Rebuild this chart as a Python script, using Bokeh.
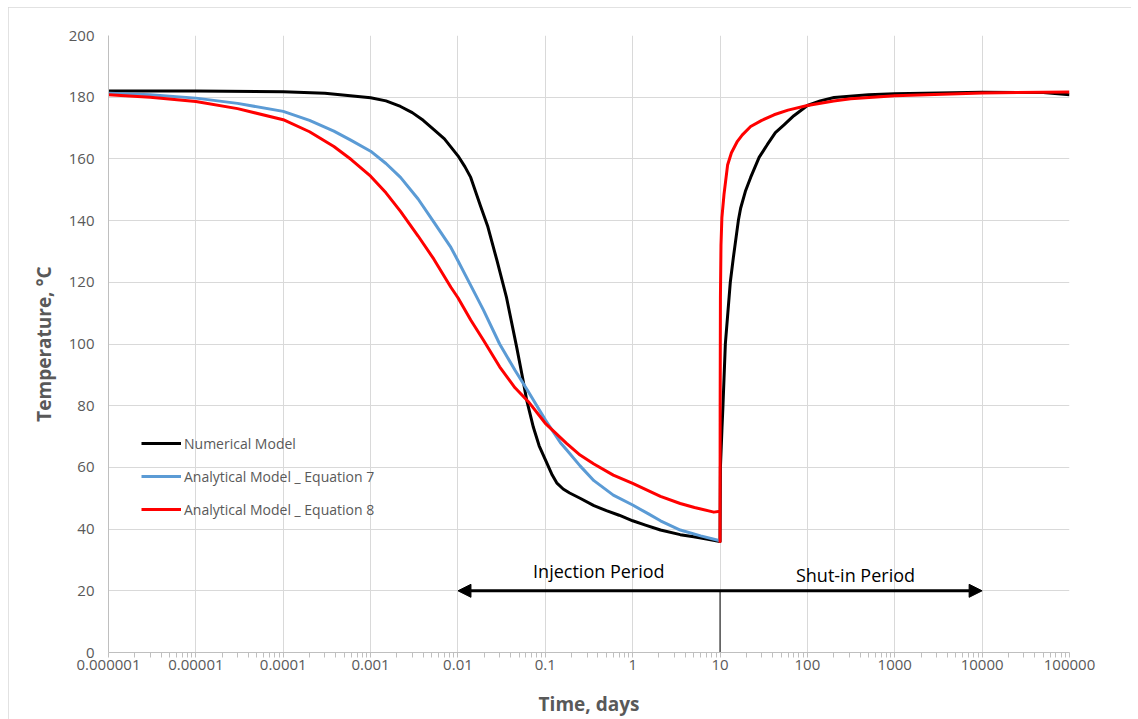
from bokeh.plotting import figure
from bokeh.models import (Range1d, FixedTicker, Arrow, NormalHead, Label, Legend, LegendItem, ColumnDataSource)
from bokeh.embed import file_html
from bokeh.resources import INLINE

# ---------------- data ----------------
x_ticks = [1e-6, 1e-5, 1e-4, 1e-3, 1e-2, 1e-1, 1, 10, 100, 1000, 10000, 100000]
x_tick_labels = ["0.000001", "0.00001", "0.0001", "0.001", "0.01", "0.1", "1", "10",
                 "100", "1000", "10000", "100000"]
y_ticks = [0, 20, 40, 60, 80, 100, 120, 140, 160, 180, 200]

# Numerical model (black): injection then shut-in
num_t = [1e-6, 1e-5, 1e-4, 3e-4, 1e-3, 1.5e-3, 2.2e-3, 3e-3, 4e-3, 5.3e-3, 7e-3,
         0.01, 0.012, 0.014, 0.018, 0.022, 0.028, 0.036, 0.047, 0.055, 0.061, 0.073, 0.085,
         0.1, 0.12, 0.135, 0.16, 0.19, 0.25, 0.36, 0.5, 0.7, 1, 1.4, 2.08, 3.5, 5, 7, 10,
         10, 10.1, 10.5, 10.8, 11.5, 13.1, 14.2, 16.2, 17.2, 19.5, 22.4, 28, 34.7, 43,
         54, 70, 100, 140, 202, 500, 1000, 10000, 50000, 100000]
num_T = [182.0, 182.0, 181.8, 181.3, 179.8, 178.8, 177.0, 175.0, 172.5, 169.5, 166.5,
         161.0, 157.5, 154.0, 145.0, 138.0, 127.0, 115.0, 99.0, 89.0, 82.0, 73.0, 67.0,
         62.5, 57.5, 55.0, 53.0, 51.7, 50.0, 47.6, 46.0, 44.5, 42.7, 41.3, 39.7, 38.2, 37.5, 36.8, 36.0,
         36.0, 60, 72, 80, 100, 120, 128, 140, 144, 149.5, 154, 160.5, 164.6, 168.5,
         171, 174, 177.3, 178.8, 179.9, 180.8, 181.1, 181.6, 181.5, 180.8]

# Analytical model, Equation 7 (blue): injection only
eq7_t = [1e-6, 3e-6, 1e-5, 3e-5, 1e-4, 2e-4, 3.8e-4, 6e-4, 1e-3, 1.5e-3, 2.2e-3, 3.5e-3,
         5.3e-3, 8.3e-3, 0.01, 0.014, 0.0196, 0.03, 0.045, 0.064, 0.1, 0.149, 0.175,
         0.25, 0.36, 0.6, 1, 1.5, 2.08, 3.5, 6, 10]
eq7_T = [181.3, 180.8, 179.7, 178.0, 175.4, 172.5, 169.0, 166.0, 162.5, 158.5, 154.0, 147.0,
         139.5, 131.3, 127.0, 119.0, 111.0, 100.0, 91.5, 84.5, 75.4, 68.0, 65.7,
         60.5, 55.7, 51.0, 47.8, 45.0, 42.7, 39.7, 37.8, 36.2]

# Analytical model, Equation 8 (red): injection then shut-in
eq8_t = [1e-6, 3e-6, 1e-5, 3e-5, 1e-4, 2e-4, 3.8e-4, 6e-4, 1e-3, 1.5e-3, 2.2e-3, 3.5e-3,
         5.3e-3, 8.3e-3, 0.01, 0.014, 0.0196, 0.03, 0.045, 0.064, 0.1, 0.175, 0.25,
         0.36, 0.6, 1, 2.08, 3.5, 5.1, 8.5, 10,
         10, 10.03, 10.1, 10.25, 10.5, 11.1, 12.2, 13.5, 15.8, 18, 22.4, 30, 41.5, 60,
         100, 200, 313, 1000, 10000, 100000]
eq8_T = [180.8, 180.0, 178.6, 176.3, 172.7, 168.8, 164.0, 159.8, 154.4, 149.0, 143.0, 135.0,
         127.5, 118.4, 115.0, 107.8, 101.2, 92.6, 85.8, 81.3, 74.3, 67.8, 64.0,
         61.1, 57.5, 54.8, 50.6, 48.3, 47.0, 45.5, 45.8,
         36, 80, 115, 132, 141, 148.5, 158, 162, 165.7, 167.8, 170.5, 172.5, 174.3, 175.8,
         177.3, 178.8, 179.5, 180.5, 181.4, 181.7]

injection_end = 10
arrow_T = 20
arrow_t_start = 0.01
arrow_t_end = 10000

# ---------------- figure ----------------
GRID = "#d9d9d9"
AXIS = "#bfbfbf"
TXT = "#595959"
FONT = "Open Sans"

p = figure(width=1123, height=712, x_axis_type="log",
           x_range=Range1d(1e-6, 1e5), y_range=Range1d(0, 200),
           output_backend="svg", toolbar_location=None,
           min_border_left=100, min_border_right=62, min_border_top=28, min_border_bottom=67,
           margin=(7, 0, 0, 8))
p.styles = {"outline": "1.5px solid #d9d9d9", "outline-offset": "-1px"}
p.outline_line_color = None
p.background_fill_color = "white"
p.border_fill_color = "white"

minor = [k * 10.0 ** n for n in range(-6, 5) for k in range(2, 10)]
p.xaxis.ticker = FixedTicker(ticks=x_ticks, minor_ticks=minor)
p.xaxis.major_label_overrides = {t: lab for t, lab in zip(x_ticks, x_tick_labels)}
p.yaxis.ticker = FixedTicker(ticks=y_ticks)

for ax in (p.xaxis[0], p.yaxis[0]):
    ax.axis_line_color = AXIS
    ax.axis_line_width = 1
    ax.major_tick_line_color = AXIS
    ax.minor_tick_line_color = AXIS
    ax.major_label_text_color = TXT
    ax.major_label_text_font = FONT
    ax.major_label_text_font_size = "15px"
    ax.axis_label_text_color = TXT
    ax.axis_label_text_font = FONT
    ax.axis_label_text_font_style = "bold"
    ax.axis_label_text_font_size = "19px"

p.xaxis.major_tick_in = 0
p.xaxis.major_tick_out = 5
p.xaxis.minor_tick_in = 0
p.xaxis.minor_tick_out = 5
p.xaxis.major_label_standoff = 2
p.xaxis.axis_label = "Time, days"
p.xaxis.axis_label_standoff = 18

p.yaxis.major_tick_in = 0
p.yaxis.major_tick_out = 0
p.yaxis.minor_tick_in = 0
p.yaxis.minor_tick_out = 0
p.yaxis.major_label_standoff = 14
p.yaxis.axis_label = "Temperature, °C"
p.yaxis.axis_label_standoff = 9

p.xgrid.grid_line_color = GRID
p.ygrid.grid_line_color = GRID
p.xgrid.grid_line_width = 1
p.ygrid.grid_line_width = 1

# curves
r_num = p.line(num_t, num_T, line_color="black", line_width=3, line_join="round")
r_eq7 = p.line(eq7_t, eq7_T, line_color="#5B9BD5", line_width=3, line_join="round")
r_eq8 = p.line(eq8_t, eq8_T, line_color="#FF0000", line_width=3, line_join="round")

# injection / shut-in marker
seg_src = ColumnDataSource(dict(x0=[injection_end], y0=[0], x1=[injection_end], y1=[arrow_T]))
p.segment("x0", "y0", "x1", "y1", source=seg_src, line_color="black", line_width=1)

p.add_layout(Arrow(x_start=arrow_t_start, y_start=arrow_T, x_end=arrow_t_end, y_end=arrow_T,
                   line_color="black", line_width=3,
                   start=NormalHead(size=13, fill_color="black", line_color="black"),
                   end=NormalHead(size=13, fill_color="black", line_color="black")))

p.add_layout(Label(x=0.41, y=26.5, text="Injection Period", text_font=FONT,
                   text_font_size="18px", text_color="black",
                   text_align="center", text_baseline="middle"))
p.add_layout(Label(x=355, y=25, text="Shut-in Period", text_font=FONT,
                   text_font_size="18px", text_color="black",
                   text_align="center", text_baseline="middle"))

legend = Legend(items=[LegendItem(label="Numerical Model", renderers=[r_num]),
                       LegendItem(label="Analytical Model _ Equation 7", renderers=[r_eq7]),
                       LegendItem(label="Analytical Model _ Equation 8", renderers=[r_eq8])],
                location=(33, 133), padding=0, margin=0, spacing=13,
                glyph_width=40, glyph_height=20, label_height=20, label_standoff=3,
                label_text_font=FONT, label_text_font_size="14px", label_text_color=TXT,
                border_line_color=None, background_fill_alpha=0)
p.add_layout(legend)

open("out.html", "w").write(file_html(p, INLINE))
